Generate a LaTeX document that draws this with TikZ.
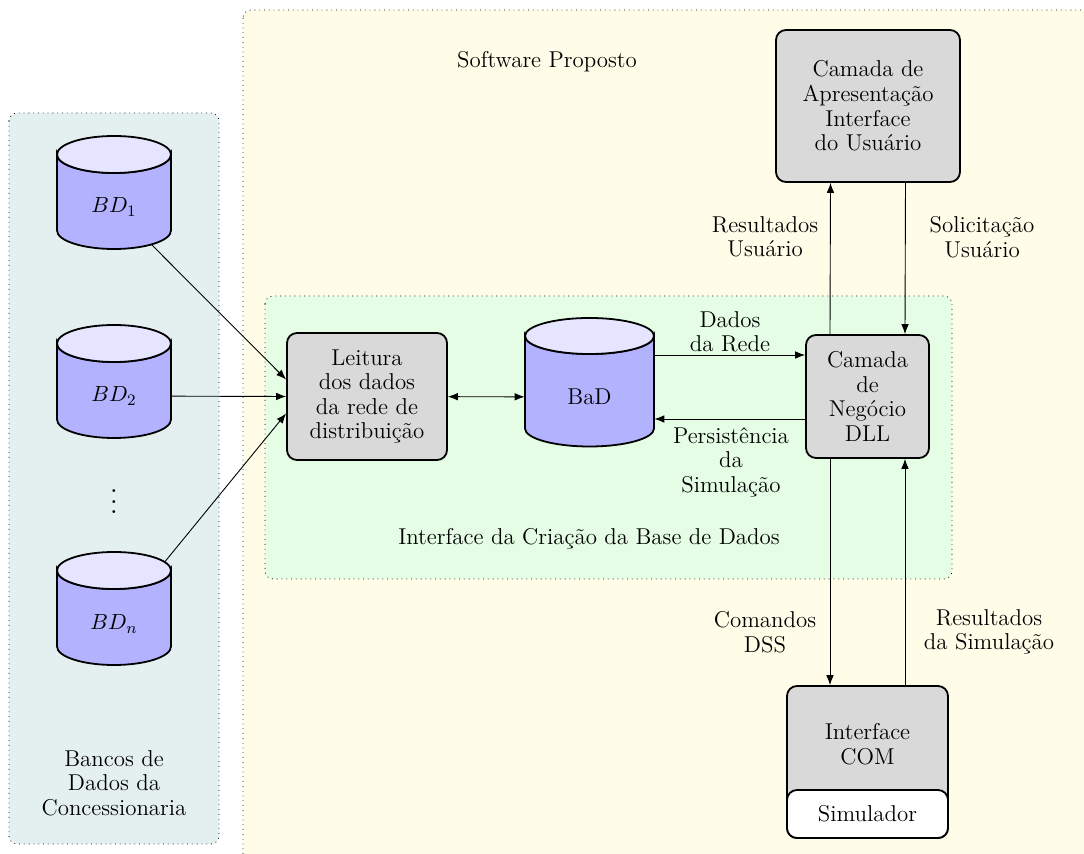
\documentclass[tikz,border=0pt]{standalone}
\usetikzlibrary{arrows.meta,calc}
\pgfdeclarelayer{back}
\pgfdeclarelayer{lines}
\pgfsetlayers{back,lines,main}
\definecolor{swpanel}{RGB}{255,252,232}
\definecolor{dbpanel}{RGB}{228,240,240}
\definecolor{bdpanel}{RGB}{228,253,228}
% database cylinder: centre x, top of the lid, half width, total height, lid y radius
\newcommand\dbcylinder[5]{%
  \filldraw[fill=blue!30, line width=0.9pt]
    ({#1-#3},{#2+#5}) -- ({#1-#3},{#2+#4-#5})
    arc[start angle=180, end angle=0, x radius=#3, y radius=#5]
    -- ({#1+#3},{#2+#5})
    arc[start angle=0, end angle=180, x radius=#3, y radius=#5] -- cycle;
  \filldraw[fill=blue!10, line width=0.9pt] (#1,{#2+#5}) ellipse[x radius=#3, y radius=#5];
}
\begin{document}
\begin{tikzpicture}[x=0.5pt,y=-0.5pt,
  font=\fontsize{11.45pt}{12.3pt}\selectfont,
  panel/.style={draw=black, dotted, rounded corners=4pt},
  procbox/.style={draw, line width=0.9pt, fill=black!15, rounded corners=5pt,
    align=center, inner sep=0pt},
  dblabel/.style={inner sep=0pt, minimum height=12pt},
  tip/.tip={Latex[length=5pt,width=3.8pt]},
  flow/.style={-tip, line width=0.45pt},
  biflow/.style={tip-tip, line width=0.45pt},
  lbl/.style={align=center, inner sep=0pt}
]
\useasboundingbox (0,0) rectangle (1084,854);
\clip (0,0) rectangle (1084,854);

% background panels
\begin{pgfonlayer}{back}
\draw[panel, fill=swpanel] (243,10) rectangle (1130,900);
\draw[panel, fill=dbpanel] (9,113) rectangle (219,844);
\draw[panel, fill=bdpanel] (265,296) rectangle (952,579);
\end{pgfonlayer}

% source databases
\dbcylinder{114}{136}{57}{113}{18.5}
\node[dblabel, minimum width=57pt] (bd1) at (114,207) {$BD_1$};
\dbcylinder{114}{325}{57}{113}{18.5}
\node[dblabel, minimum width=57pt] (bd2) at (114,396) {$BD_2$};
\node[inner sep=0pt] (dots) at (114,494) {\scalebox{1.3}{$\vdots$}};
\dbcylinder{114}{552}{57}{113}{18.5}
\node[dblabel, minimum width=57pt] (bdn) at (114,624) {$BD_n$};
\node[lbl] (bancos) at (114,783) {Bancos de\\Dados da\\Concessionaria};

% proposed software
\node[lbl] (soft) at (547,62) {Software Proposto};
\node[procbox, minimum width=80pt, minimum height=63.5pt] (lei) at (367,396.5)
  {Leitura\\dos dados\\da rede de\\distribuição};
\dbcylinder{589.5}{318}{64.5}{128.5}{18}
\node[dblabel, minimum width=64.5pt] (bad) at (589.5,397) {BaD};
\node[procbox, minimum width=61.5pt, minimum height=61.5pt] (neg) at (867.5,396.5)
  {Camada\\de\\Negócio\\DLL};
\node[procbox, minimum width=92pt, minimum height=76pt] (apr) at (868,106)
  {Camada de\\Apresentação\\Interface\\do Usuário};
\node[procbox, minimum width=80.5pt, minimum height=76pt] (com) at (867.5,762) {};
\node[lbl] (comtxt) at (867.5,744) {Interface\\COM};
\node[procbox, fill=white, minimum width=80.5pt, minimum height=24pt] (sim) at (867.5,814) {Simulador};
\node[lbl] (criacao) at (589,539) {Interface da Criação da Base de Dados};

% connector labels
\node[lbl] (resusu) at (765,237) {Resultados\\Usuário};
\node[lbl] (solusu) at (982,237) {Solicitação\\Usuário};
\node[lbl] (dadosrede) at (730,332) {Dados\\da Rede};
\node[lbl] (persist) at (731,462) {Persistência\\da\\Simulação};
\node[lbl] (cmddss) at (765,632) {Comandos\\DSS};
\node[lbl] (ressim) at (989,632) {Resultados\\da Simulação};

% connectors
\begin{pgfonlayer}{lines}
\draw[flow] (bd1) -- ($(lei.west)+(0,-17)$);
\draw[flow] (bd2) -- (lei.west);
\draw[flow] (bdn) -- ($(lei.west)+(0,17)$);
\draw[biflow] (lei) -- (bad);

\coordinate (pa) at ($(neg.west)+(0,-41.5)$);
\coordinate (pb) at ($(neg.west)+(0,22.5)$);
\draw[flow] (bad.east |- pa) -- (pa);
\draw[flow] (pb) -- (bad.east |- pb);

\draw[flow] ($(neg.north)+(-37.5,0)$) -- ($(apr.south)+(-37.5,0)$);
\draw[flow] ($(apr.south)+(37.5,0)$) -- ($(neg.north)+(37.5,0)$);
\draw[flow] ($(neg.south)+(-37.5,0)$) -- ($(com.north)+(-37.5,0)$);
\draw[flow] ($(com.north)+(37.5,0)$) -- ($(neg.south)+(37.5,0)$);
\end{pgfonlayer}
\end{tikzpicture}
\end{document}
